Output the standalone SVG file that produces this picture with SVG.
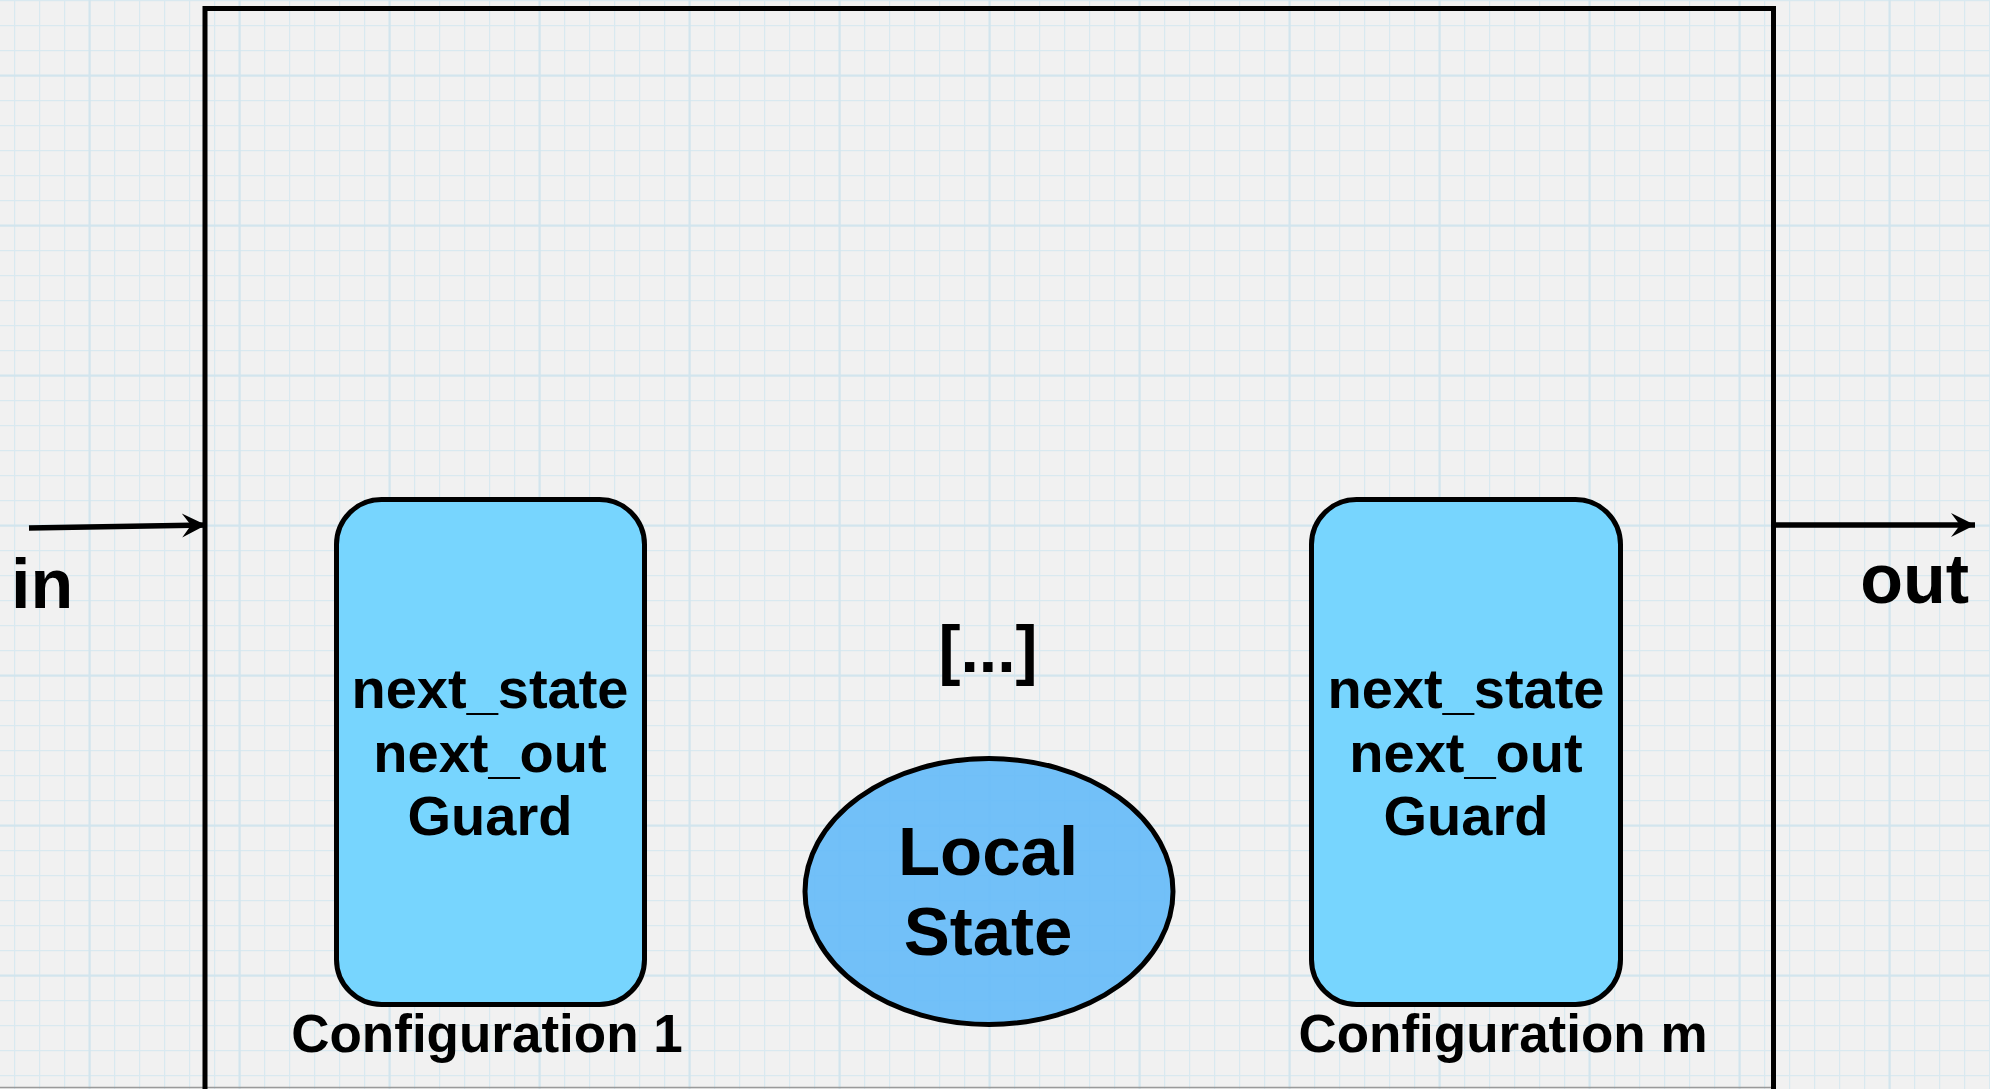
<svg xmlns="http://www.w3.org/2000/svg" width="1990" height="1089" viewBox="0 0 1990 1089">
  <defs>
    <pattern id="grid" patternUnits="userSpaceOnUse" x="14" y="0" width="150" height="150">
      <rect width="150" height="150" fill="#f1f1f1"/>
      <g fill="#d9e9f0">
        <rect x="0" y="0" width="1.2" height="150"/>
        <rect x="25" y="0" width="1.2" height="150"/>
        <rect x="50" y="0" width="1.2" height="150"/>
        <rect x="100" y="0" width="1.2" height="150"/>
        <rect x="125" y="0" width="1.2" height="150"/>
        <rect x="0" y="0" width="150" height="1.2"/>
        <rect x="0" y="25" width="150" height="1.2"/>
        <rect x="0" y="50" width="150" height="1.2"/>
        <rect x="0" y="100" width="150" height="1.2"/>
        <rect x="0" y="125" width="150" height="1.2"/>
      </g>
      <g fill="#d2e5ee">
        <rect x="74.5" y="0" width="2.2" height="150"/>
        <rect x="0" y="74.5" width="150" height="2.2"/>
      </g>
    </pattern>
    <marker id="arrow" markerUnits="userSpaceOnUse" markerWidth="30" markerHeight="30" viewBox="-26 -15 30 30" refX="0" refY="0" orient="auto">
      <path d="M0,0 L-24,-12 L-15,0 L-24,12 Z" fill="#000"/>
    </marker>
    <style>
      .lbl { font-family: "Liberation Sans", Arial, sans-serif; font-weight: bold; fill: #000; }
      .mid { text-anchor: middle; }
      .box { font-size: 56px; }
      .cap { font-size: 53px; }
      .cfg { fill: #77d5fe; stroke: #000; stroke-width: 5; }
      .conn { stroke: #000; stroke-width: 5.5; fill: none; }
    </style>
  </defs>

  <rect x="0" y="0" width="1990" height="1089" fill="url(#grid)"/>
  <line x1="0" y1="1087.5" x2="1771" y2="1087.5" stroke="#9a9a9a" stroke-width="1.5"/>

  <g id="container">
    <rect x="205" y="8.5" width="1568.5" height="1200" fill="none" stroke="#000" stroke-width="5"/>
  </g>

  <g id="connectors">
    <line class="conn" x1="29" y1="528" x2="206" y2="525" marker-end="url(#arrow)"/>
    <line class="conn" x1="1773" y1="525" x2="1975" y2="525" marker-end="url(#arrow)"/>
  </g>

  <g id="label-in">
    <text class="lbl" x="11" y="608" font-size="70">in</text>
  </g>
  <g id="label-out">
    <text class="lbl" x="1969" y="603" font-size="70" text-anchor="end">out</text>
  </g>

  <g id="config1">
    <rect class="cfg" x="336.5" y="499.5" width="308" height="505" rx="45" ry="45"/>
    <text class="lbl mid box" x="490" y="708">next_state</text>
    <text class="lbl mid box" x="490" y="772">next_out</text>
    <text class="lbl mid box" x="490" y="835">Guard</text>
    <text class="lbl mid cap" x="487" y="1052">Configuration 1</text>
  </g>

  <g id="ellipsis">
    <text class="lbl mid" x="988" y="672" font-size="66">[...]</text>
  </g>

  <g id="local-state">
    <ellipse cx="989" cy="891.5" rx="184" ry="133" fill="#6abdf8" fill-opacity="0.95" stroke="#000" stroke-width="5"/>
    <text class="lbl mid" x="988" y="875" font-size="69">Local</text>
    <text class="lbl mid" x="988" y="955" font-size="69">State</text>
  </g>

  <g id="configm">
    <rect class="cfg" x="1311.5" y="499.5" width="309" height="505" rx="45" ry="45"/>
    <text class="lbl mid box" x="1466" y="708">next_state</text>
    <text class="lbl mid box" x="1466" y="772">next_out</text>
    <text class="lbl mid box" x="1466" y="835">Guard</text>
    <text class="lbl mid cap" x="1503" y="1052">Configuration m</text>
  </g>
</svg>
